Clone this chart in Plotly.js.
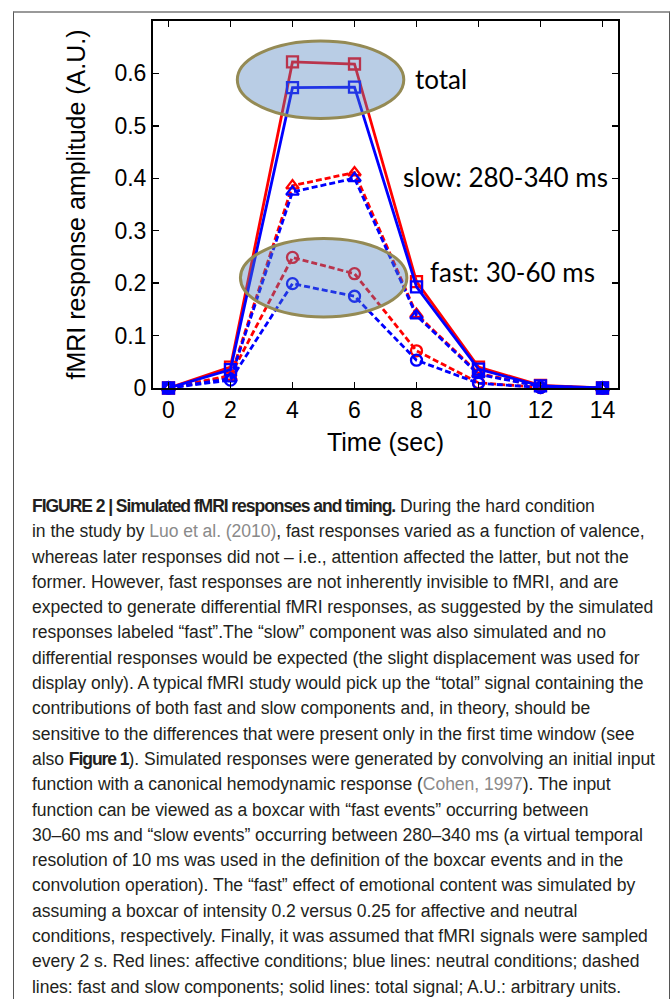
<!DOCTYPE html>
<html>
<head>
<meta charset="utf-8">
<script src="https://cdn.plot.ly/plotly-3.0.1.min.js"></script>
<style>
  html, body { margin:0; padding:0; background:#fff; }
  #wrap { position:relative; width:671px; height:999px; overflow:hidden; background:#fff; }
  #chart { position:absolute; left:0; top:0; width:671px; height:999px; }
  #frame { position:absolute; left:13px; top:11px; width:657px; height:1000px; border-left:1px solid #555; border-top:2px solid #999; border-right:1px solid #555; box-sizing:border-box; pointer-events:none; }
  #caption { position:absolute; left:32px; top:494px; font-family:"Liberation Sans",Arial,sans-serif; font-size:18px; line-height:25.3px; color:#231f20; white-space:nowrap; transform:scaleX(0.975); transform-origin:0 0; letter-spacing:-0.05px; }
  #caption .ref { color:#8a8a8a; }
  #caption b { font-weight:bold; letter-spacing:-1.1px; }
</style>
</head>
<body>
<div id="wrap">
  <div id="chart"></div>
  <div id="frame"></div>
  <div id="caption">
    <b>FIGURE 2 | Simulated fMRI responses and timing.</b> During the hard condition<br>
    in the study by <span class="ref">Luo et al. (2010)</span>, fast responses varied as a function of valence,<br>
    whereas later responses did not – i.e., attention affected the latter, but not the<br>
    former. However, fast responses are not inherently invisible to fMRI, and are<br>
    expected to generate differential fMRI responses, as suggested by the simulated<br>
    responses labeled “fast”.The “slow” component was also simulated and no<br>
    differential responses would be expected (the slight displacement was used for<br>
    display only). A typical fMRI study would pick up the “total” signal containing the<br>
    contributions of both fast and slow components and, in theory, should be<br>
    sensitive to the differences that were present only in the first time window (see<br>
    also <b>Figure 1</b>). Simulated responses were generated by convolving an initial input<br>
    function with a canonical hemodynamic response (<span class="ref">Cohen, 1997</span>). The input<br>
    function can be viewed as a boxcar with “fast events” occurring between<br>
    30–60 ms and “slow events” occurring between 280–340 ms (a virtual temporal<br>
    resolution of 10 ms was used in the definition of the boxcar events and in the<br>
    convolution operation). The “fast” effect of emotional content was simulated by<br>
    assuming a boxcar of intensity 0.2 versus 0.25 for affective and neutral<br>
    conditions, respectively. Finally, it was assumed that fMRI signals were sampled<br>
    every 2 s. Red lines: affective conditions; blue lines: neutral conditions; dashed<br>
    lines: fast and slow components; solid lines: total signal; A.U.: arbitrary units.
  </div>
</div>
<script>
// ---- data ----
const timeSec   = [0, 2, 4, 6, 8, 10, 12, 14];
const redTotal  = [0, 0.040, 0.622, 0.618, 0.203, 0.040, 0.005, 0];
const blueTotal = [0, 0.035, 0.573, 0.574, 0.193, 0.036, 0.004, 0];
const redSlow   = [0, 0.021, 0.386, 0.411, 0.141, 0.028, 0.003, 0];
const blueSlow  = [0, 0.018, 0.374, 0.400, 0.138, 0.026, 0.003, 0];
const redFast   = [0, 0.024, 0.249, 0.218, 0.071, 0.010, 0.001, 0];
const blueFast  = [0, 0.015, 0.199, 0.175, 0.053, 0.009, 0.001, 0];
const yTickVals = [0, 0.1, 0.2, 0.3, 0.4, 0.5, 0.6];
const yTickText = ["0", "0.1", "0.2", "0.3", "0.4", "0.5", "0.6"];
const xTickVals = [0, 2, 4, 6, 8, 10, 12, 14];
const labelTotal = "total";
const labelSlow = "slow: 280-340 ms";
const labelFast = "fast: 30-60 ms";

const RED = "#ff0000", BLUE = "#0000ff";
function tr(y, color, dash, symbol) {
  return {
    x: timeSec, y: y, type: "scatter", mode: "lines+markers",
    line: { color: color, width: 2.8, dash: dash },
    marker: { symbol: symbol, size: 11, color: color, line: { color: color, width: 2.3 } },
    hoverinfo: "skip", showlegend: false, cliponaxis: false
  };
}
const traces = [
  tr(redFast, RED, "6px,3px", "circle-open"),
  tr(redSlow, RED, "6px,3px", "triangle-up-open"),
  tr(redTotal, RED, "solid", "square-open"),
  tr(blueFast, BLUE, "6px,3px", "circle-open"),
  tr(blueSlow, BLUE, "6px,3px", "triangle-up-open"),
  tr(blueTotal, BLUE, "solid", "square-open")
];

const tickFont = { family: "Liberation Sans, Arial, sans-serif", size: 23, color: "#000" };
const labFont = { family: "Lato, Calibri, sans-serif", size: 26, color: "#000" };

const layout = {
  width: 671, height: 999,
  margin: { l: 153, r: 53, t: 21, b: 611 },
  paper_bgcolor: "rgba(0,0,0,0)", plot_bgcolor: "#fff",
  xaxis: {
    range: [-0.5, 14.5], tickvals: xTickVals, ticks: "inside", ticklen: 6, tickwidth: 1.5,
    tickcolor: "#000", showline: true, linecolor: "#000", linewidth: 2, mirror: "ticks",
    showgrid: false, zeroline: false, tickfont: tickFont,
    title: { text: "Time (sec)", font: { family: "Liberation Sans, Arial, sans-serif", size: 25, color: "#000" }, standoff: 12 }
  },
  yaxis: {
    range: [0, 0.7], tickvals: yTickVals, ticktext: yTickText, ticks: "inside", ticklen: 6, tickwidth: 1.5,
    tickcolor: "#000", showline: true, linecolor: "#000", linewidth: 2, mirror: "ticks",
    showgrid: false, zeroline: false, tickfont: tickFont,
    title: { text: "fMRI response amplitude (A.U.)", font: { family: "Liberation Sans, Arial, sans-serif", size: 25, color: "#000" }, standoff: 22 }
  },
  shapes: [
    { type: "circle", xref: "x", yref: "y", x0: 2.22, x1: 7.59, y0: 0.514, y1: 0.662,
      fillcolor: "rgba(79,129,189,0.4)", line: { color: "#948a54", width: 3 }, layer: "above" },
    { type: "circle", xref: "x", yref: "y", x0: 2.32, x1: 7.69, y0: 0.1355, y1: 0.285,
      fillcolor: "rgba(79,129,189,0.4)", line: { color: "#948a54", width: 3 }, layer: "above" }
  ],
  annotations: [
    { x: 7.88, y: 0.589, xref: "x", yref: "y", text: labelTotal, showarrow: false, xanchor: "left", yanchor: "middle", font: labFont },
    { x: 7.49, y: 0.403, xref: "x", yref: "y", text: labelSlow, showarrow: false, xanchor: "left", yanchor: "middle", font: labFont },
    { x: 8.36, y: 0.221, xref: "x", yref: "y", text: labelFast, showarrow: false, xanchor: "left", yanchor: "middle", font: labFont }
  ]
};

Plotly.newPlot("chart", traces, layout, { staticPlot: true, displayModeBar: false });
</script>
</body>
</html>
